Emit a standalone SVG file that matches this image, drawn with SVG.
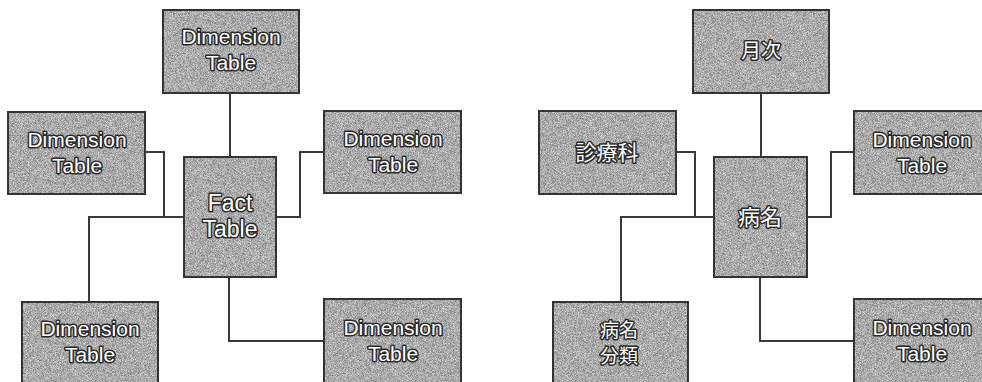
<svg xmlns="http://www.w3.org/2000/svg" width="982" height="382" viewBox="0 0 982 382">
<defs>
<filter id="grain" x="0" y="0" width="1" height="1" filterUnits="objectBoundingBox" color-interpolation-filters="sRGB">
<feTurbulence type="fractalNoise" baseFrequency="1.6" numOctaves="1" seed="3" result="n"/>
<feColorMatrix in="n" type="matrix" values="0.7 0 0 0 0.32  0.7 0 0 0 0.32  0.7 0 0 0 0.32  0 0 0 0 1" result="g"/>
<feComposite in="g" in2="SourceAlpha" operator="in"/>
</filter>
<style>
.fillbox{fill:#aaaaaa;filter:url(#grain);}
.box{fill:none;stroke:#333;stroke-width:2;}
.t{font-family:"Liberation Sans",Arial,sans-serif;font-size:21px;fill:#fff;stroke:#2a2a2a;stroke-width:3px;paint-order:stroke;text-anchor:middle;stroke-linejoin:round;}
.f{font-size:23px;}
.cjk{font-family:"Noto Sans CJK JP","Noto Sans CJK SC",sans-serif;}
.c{fill:none;stroke:#3a3a3a;stroke-width:2;}
</style>
</defs>
<g id="connectors">
<path class="c" d="M230 93V157"/>
<path class="c" d="M145 152H164V217H184"/>
<path class="c" d="M89 302V217H184"/>
<path class="c" d="M276 217H300V152H324"/>
<path class="c" d="M229 277V341H324"/>
<path class="c" d="M761 93V157"/>
<path class="c" d="M676 152H695V217H714"/>
<path class="c" d="M621 302V217H714"/>
<path class="c" d="M807 217H831V152H854"/>
<path class="c" d="M760 277V341H854"/>
</g>
<g id="dim-top-left">
<rect class="fillbox" x="163" y="10" width="136" height="83"/><rect class="box" x="163" y="10" width="136" height="83"/>
<text class="t" x="231" y="44">Dimension</text><text class="t" x="231" y="70">Table</text>
</g>
<g id="dim-left-left">
<rect class="fillbox" x="8" y="112" width="137" height="82"/><rect class="box" x="8" y="112" width="137" height="82"/>
<text class="t" x="77" y="147">Dimension</text><text class="t" x="77" y="173">Table</text>
</g>
<g id="dim-right-left">
<rect class="fillbox" x="324" y="111" width="137" height="82"/><rect class="box" x="324" y="111" width="137" height="82"/>
<text class="t" x="393" y="146">Dimension</text><text class="t" x="393" y="172">Table</text>
</g>
<g id="fact">
<rect class="fillbox" x="184" y="157" width="92" height="120"/><rect class="box" x="184" y="157" width="92" height="120"/>
<text class="t f" x="230" y="211">Fact</text><text class="t f" x="230" y="237">Table</text>
</g>
<g id="dim-bl-left">
<rect class="fillbox" x="22" y="302" width="136" height="90"/><rect class="box" x="22" y="302" width="136" height="90"/>
<text class="t" x="90" y="336">Dimension</text><text class="t" x="90" y="362">Table</text>
</g>
<g id="dim-br-left">
<rect class="fillbox" x="324" y="299" width="137" height="90"/><rect class="box" x="324" y="299" width="137" height="90"/>
<text class="t" x="393" y="335">Dimension</text><text class="t" x="393" y="361">Table</text>
</g>
<g id="month">
<rect class="fillbox" x="693" y="10" width="136" height="83"/><rect class="box" x="693" y="10" width="136" height="83"/>
<text class="t cjk" x="761" y="58" style="font-size:20px">月次</text>
</g>
<g id="dept">
<rect class="fillbox" x="539" y="111" width="137" height="83"/><rect class="box" x="539" y="111" width="137" height="83"/>
<text class="t cjk" x="607" y="160">診療科</text>
</g>
<g id="dim-right-right">
<rect class="fillbox" x="854" y="111" width="137" height="83"/><rect class="box" x="854" y="111" width="137" height="83"/>
<text class="t" x="922" y="147">Dimension</text><text class="t" x="922" y="173">Table</text>
</g>
<g id="disease">
<rect class="fillbox" x="714" y="157" width="93" height="120"/><rect class="box" x="714" y="157" width="93" height="120"/>
<text class="t cjk" x="760" y="225" style="font-size:22px">病名</text>
</g>
<g id="disease-class">
<rect class="fillbox" x="553" y="302" width="135" height="90"/><rect class="box" x="553" y="302" width="135" height="90"/>
<text class="t cjk" x="619" y="337" style="font-size:19px">病名</text><text class="t cjk" x="619" y="363" style="font-size:19px">分類</text>
</g>
<g id="dim-br-right">
<rect class="fillbox" x="854" y="299" width="137" height="90"/><rect class="box" x="854" y="299" width="137" height="90"/>
<text class="t" x="922" y="335">Dimension</text><text class="t" x="922" y="361">Table</text>
</g>
</svg>
